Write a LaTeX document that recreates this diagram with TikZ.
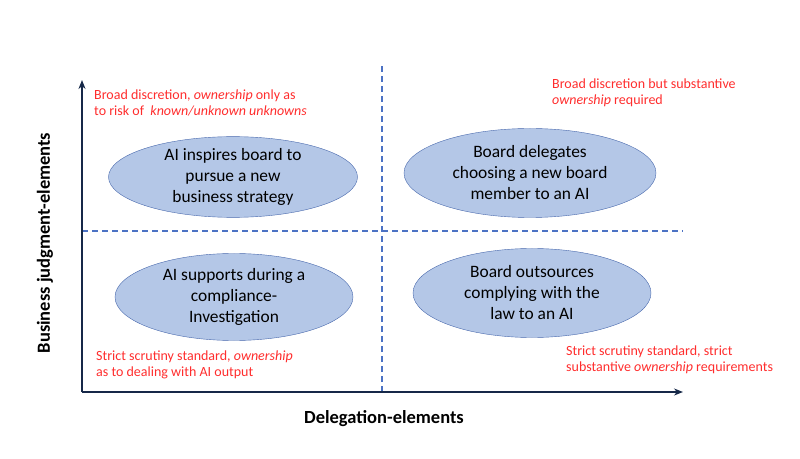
\documentclass[tikz,border=0pt]{standalone}
\usepackage{fontspec}
\setmainfont{Carlito}
\usetikzlibrary{arrows.meta,positioning,shapes.geometric}
\definecolor{AxisNavy}{RGB}{22,40,72}
\definecolor{DashBlue}{RGB}{76,114,196}
\definecolor{CaseFill}{RGB}{180,199,231}
\definecolor{CaseLine}{RGB}{72,104,172}
\definecolor{NoteRed}{RGB}{255,45,45}
\begin{document}
\begin{tikzpicture}[x=1pt,y=1pt,>={Stealth[length=9pt,width=7pt]},
  casebox/.style={draw=CaseLine,fill=CaseFill,ellipse,inner sep=0pt,align=center,font=\fontsize{17.4}{21}\selectfont},
  note/.style={text=NoteRed,align=left,anchor=west,inner sep=0pt,font=\fontsize{14}{15.5}\selectfont},
  axislabel/.style={font=\fontsize{18.5}{20}\selectfont\bfseries},
  quadline/.style={DashBlue,dash pattern=on 6pt off 4pt,line width=1.2pt}]
\useasboundingbox (0,0) rectangle (800,458);
% axes
\coordinate (o) at (82,66);
\coordinate (ytop) at (82,378);
\coordinate (xend) at (683,66);
\coordinate (vtop) at (382,393);
\coordinate (vbot) at (382,66);
\coordinate (hl) at (82,227);
\coordinate (hr) at (683,227);
\draw[quadline] (vbot)--(vtop);
\draw[quadline] (hl)--(hr);
\draw[AxisNavy,line width=2.4pt,->] (o)--(ytop);
\draw[AxisNavy,line width=2.4pt,->] (o)--(xend);
\node[axislabel] (xlab) at (384,39) {Delegation-elements};
\node[axislabel,rotate=90] (ylab) at (45,215) {Business judgment-elements};
% cases
\node[casebox,minimum width=249pt,minimum height=78pt] (tl) at (233,281) {AI inspires board to\\pursue a new\\business strategy};
\node[casebox,minimum width=252pt,minimum height=89pt] (tr) at (530,285) {Board delegates\\choosing a new board\\member to an AI};
\node[casebox,minimum width=238pt,minimum height=87pt] (bl) at (234,161) {AI supports during a\\compliance-\\Investigation};
\node[casebox,minimum width=238pt,minimum height=89pt] (br) at (532,165) {Board outsources\\complying with the\\law to an AI};
% standards
\node[note] (ntl) at (94,355) {Broad discretion, \textit{ownership} only as\\to risk of \ \textit{known/unknown unknowns}};
\node[note] (ntr) at (552,365) {Broad discretion but substantive\\\textit{ownership} required};
\node[note] (nbl) at (96,93) {Strict scrutiny standard, \textit{ownership}\\as to dealing with AI output};
\node[note] (nbr) at (566,98) {Strict scrutiny standard, strict\\substantive \textit{ownership} requirements};
\end{tikzpicture}
\end{document}
